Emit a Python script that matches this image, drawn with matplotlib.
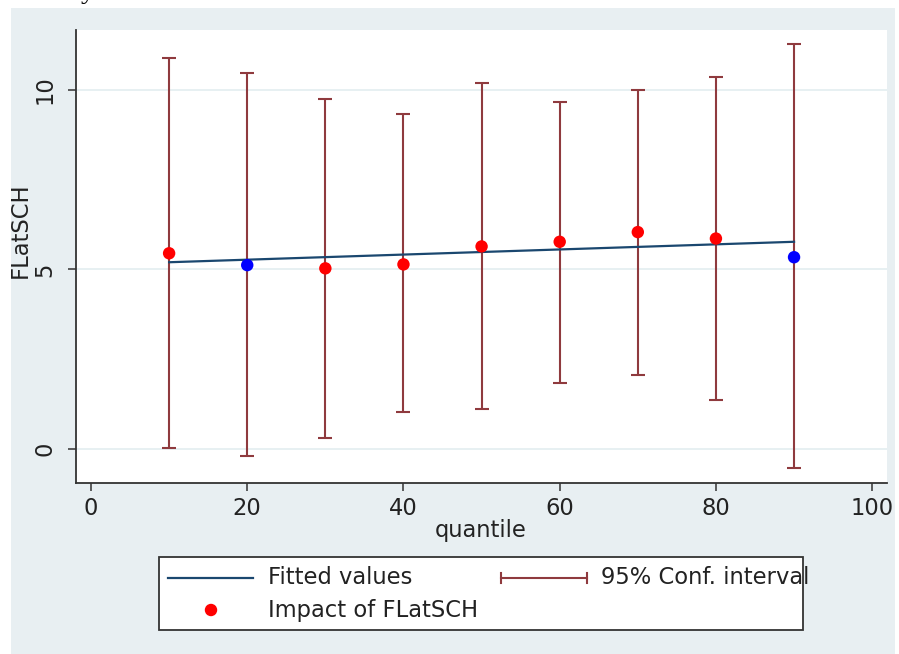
import numpy as np
import matplotlib
matplotlib.use("Agg")
import matplotlib.pyplot as plt
from matplotlib.patches import Rectangle
from matplotlib.lines import Line2D

# values
quantile = [10, 20, 30, 40, 50, 60, 70, 80, 90]
impact = [5.45, 5.12, 5.03, 5.14, 5.64, 5.77, 6.04, 5.86, 5.34]
ci_upper = [10.88, 10.46, 9.75, 9.33, 10.18, 9.66, 10.00, 10.37, 11.28]
ci_lower = [0.02, -0.21, 0.31, 1.03, 1.11, 1.83, 2.07, 1.36, -0.54]
dot_colors = ['red', 'blue', 'red', 'red', 'red', 'red', 'red', 'red', 'blue']
fit_x = [10, 90]
fit_y = [5.20, 5.77]
xticks = [0, 20, 40, 60, 80, 100]
yticks = [0, 5, 10]

W, H = 899, 654
panel_col = '#e8eff2'
ci_col = '#8f3a3e'
fit_col = '#1a476f'
fs = 16.3

fig = plt.figure(figsize=(W / 100, H / 100), dpi=100)
fig.patch.set_facecolor('white')

# light panel behind everything, in pixel coords
bg = fig.add_axes([0, 0, 1, 1], zorder=-5)
bg.set_xlim(0, W)
bg.set_ylim(H, 0)
bg.axis('off')
bg.add_patch(Rectangle((11, 8), 884, 646, facecolor=panel_col, edgecolor='none'))
# cut-off letter from the text above the chart
bg.text(88, -1.5, 'y', family='Liberation Serif', fontsize=20,
        ha='center', va='baseline', color='black')

ax = fig.add_axes([76 / W, 1 - 483 / H, (887 - 76) / W, (483 - 30) / H])
ax.set_facecolor('white')
ax.set_xlim(-1.92, 101.9)
ax.set_ylim(-0.95, 11.67)

for v in yticks:
    ax.axhline(v, color='#e3edf0', lw=1.2, zorder=1)

ci = np.array([np.array(impact) - np.array(ci_lower), np.array(ci_upper) - np.array(impact)])
ax.errorbar(quantile, impact, yerr=ci, fmt='none', ecolor=ci_col, elinewidth=1.5,
            capsize=4.7, capthick=1.5, zorder=2)
ax.plot(fit_x, fit_y, color=fit_col, lw=1.6, zorder=3)
ax.scatter(quantile, impact, c=dot_colors, s=80, zorder=4, edgecolors='none')

for side in ['top', 'right']:
    ax.spines[side].set_visible(False)
for side in ['left', 'bottom']:
    ax.spines[side].set_color('#333333')
    ax.spines[side].set_linewidth(1.3)

ax.set_xticks(xticks)
ax.set_yticks(yticks)
ax.tick_params(axis='both', length=6, width=1.1, color='#333333', labelsize=fs,
               labelcolor='#222222')
ax.tick_params(axis='x', pad=4)
ax.tick_params(axis='y', pad=8)
for lab in ax.get_yticklabels():
    lab.set_rotation(90)
    lab.set_va('center')

fig.text(481 / W, 1 - 530 / H, 'quantile', fontsize=fs, ha='center', va='center', color='#222222')
fig.text(20 / W, 1 - 230 / H, 'FLatSCH', fontsize=fs, ha='center', va='center',
         rotation=90, color='#222222')

# legend drawn by hand to match the layout
lax = fig.add_axes([0, 0, 1, 1], zorder=5)
lax.set_xlim(0, W)
lax.set_ylim(H, 0)
lax.axis('off')
lax.add_patch(Rectangle((159, 557), 803 - 159, 630 - 557, facecolor='white',
                        edgecolor='#333333', lw=1.3, zorder=1))
lax.add_line(Line2D([168, 253], [578, 578], color=fit_col, lw=1.6, zorder=2))
lax.text(268, 578, 'Fitted values', fontsize=fs, va='center', color='#222222', zorder=3)
lax.add_line(Line2D([501, 587], [578, 578], color=ci_col, lw=1.5, zorder=2))
lax.add_line(Line2D([501, 501], [573, 583], color=ci_col, lw=1.5, zorder=2))
lax.add_line(Line2D([587, 587], [573, 583], color=ci_col, lw=1.5, zorder=2))
lax.text(601, 578, '95% Conf. interval', fontsize=fs, va='center', color='#222222', zorder=3)
lax.scatter([211], [610], c='red', s=80, edgecolors='none', zorder=2)
lax.text(268, 610, 'Impact of FLatSCH', fontsize=fs, va='center', color='#222222', zorder=3)

fig.savefig('out.png', dpi=100)
